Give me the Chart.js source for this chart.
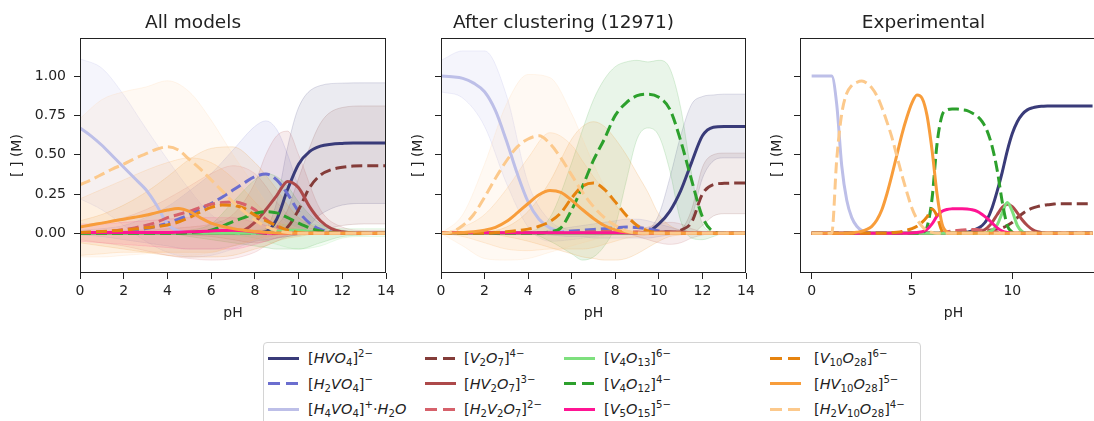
<!DOCTYPE html>
<html>
<head>
<meta charset="utf-8">
<script src="https://cdn.jsdelivr.net/npm/chart.js@4.4.0/dist/chart.umd.min.js"></script>
<style>
  body { margin: 0; width: 1094px; height: 421px; overflow: hidden; background: #fff; position: relative; font-family: "DejaVu Sans", sans-serif; }
  canvas { position: absolute; top: 0; }
  #legend { position: absolute; left: 263px; top: 342px; width: 656px; height: 100px; border: 1px solid #d4d4d4; border-radius: 4px; background: #fff; color: #222; font-size: 14.5px; }
  .sample { position: absolute; width: 31px; height: 3px; }
  .lab { position: absolute; white-space: nowrap; line-height: 20px; }
  .lab sub, .lab sup { font-size: 70%; line-height: 0; }
  .lab sup { vertical-align: 0.55em; }
  .lab sub { vertical-align: -0.3em; }
</style>
</head>
<body>
<canvas id="c1" width="466" height="330" style="left:0px"></canvas>
<canvas id="c2" width="425" height="330" style="left:381px"></canvas>
<canvas id="c3" width="427" height="330" style="left:740px"></canvas>
<div id="legend"></div>
<script>
// species, in legend order
const SPECIES = ['HVO4', 'H2VO4', 'H4VO4', 'V2O7', 'HV2O7', 'H2V2O7', 'V4O13', 'V4O12', 'V5O15', 'V10O28', 'HV10O28', 'H2V10O28'];
const LABELS = [
  '[<i>HVO</i><sub>4</sub>]<sup>2−</sup>',
  '[<i>H</i><sub>2</sub><i>VO</i><sub>4</sub>]<sup>−</sup>',
  '[<i>H</i><sub>4</sub><i>VO</i><sub>4</sub>]<sup>+</sup>·<i>H</i><sub>2</sub><i>O</i>',
  '[<i>V</i><sub>2</sub><i>O</i><sub>7</sub>]<sup>4−</sup>',
  '[<i>HV</i><sub>2</sub><i>O</i><sub>7</sub>]<sup>3−</sup>',
  '[<i>H</i><sub>2</sub><i>V</i><sub>2</sub><i>O</i><sub>7</sub>]<sup>2−</sup>',
  '[<i>V</i><sub>4</sub><i>O</i><sub>13</sub>]<sup>6−</sup>',
  '[<i>V</i><sub>4</sub><i>O</i><sub>12</sub>]<sup>4−</sup>',
  '[<i>V</i><sub>5</sub><i>O</i><sub>15</sub>]<sup>5−</sup>',
  '[<i>V</i><sub>10</sub><i>O</i><sub>28</sub>]<sup>6−</sup>',
  '[<i>HV</i><sub>10</sub><i>O</i><sub>28</sub>]<sup>5−</sup>',
  '[<i>H</i><sub>2</sub><i>V</i><sub>10</sub><i>O</i><sub>28</sub>]<sup>4−</sup>'
];
const COLORS = ['#393b79', '#6b6ecf', '#bdbfe8', '#843c39', '#ad494a', '#d6616b', '#7ee07e', '#2ca02c', '#ff1493', '#e6830f', '#f89d3b', '#fcc98c'];
const DASHED = [false, true, false, true, false, true, false, true, false, true, false, true];

const TITLES = ['All models', 'After clustering (12971)', 'Experimental'];
const Y_TICKS = [0, 0.25, 0.5, 0.75, 1.0];
const X_TICKS_MODEL = [0, 2, 4, 6, 8, 10, 12, 14];
const X_TICKS_EXP = [0, 5, 10];

// pH grid for the model panels
const PH = [0,0.5,1,1.5,2,2.5,3,3.5,4,4.5,5,5.5,6,6.5,7,7.5,8,8.5,9,9.5,10,10.5,11,11.5,12,12.5,13,13.5,14];

// All models: mean curves
const am_HVO4 = [0,0,0,0,0,0,0,0,0,0, 0,0,0,0,0,0,0.003,0.01,0.09,0.28,0.44,0.52,0.555,0.567,0.572,0.575,0.575,0.575,0.575];
const am_H2VO4 = [0,0.002,0.004,0.006,0.01,0.018,0.03,0.045,0.065,0.09,0.12,0.155,0.19,0.23,0.275,0.32,0.36,0.377,0.34,0.25,0.14,0.065,0.025,0.008,0.002,0,0,0,0];
const am_H4VO4 = [0.67,0.62,0.56,0.49,0.42,0.35,0.28,0.18,0.06,0.015,0.004,0,0,0,0,0,0,0,0,0,0,0,0,0,0,0,0,0,0];
const am_V2O7 = [0,0,0,0,0,0,0,0,0,0, 0,0,0,0,0,0,0,0,0,0.04,0.15,0.29,0.37,0.405,0.42,0.428,0.43,0.43,0.43];
const am_HV2O7 = [0,0,0,0,0,0,0,0,0,0, 0,0,0,0,0,0.02,0.07,0.15,0.24,0.33,0.29,0.17,0.08,0.03,0.01,0.003,0,0,0];
const am_H2V2O7 = [0.005,0.007,0.01,0.015,0.025,0.035,0.05,0.07,0.1,0.12,0.14,0.165,0.185,0.197,0.2,0.185,0.15,0.09,0.045,0.018,0.005,0,0,0,0,0,0,0,0];
const am_V4O13 = [0,0,0,0,0,0,0,0,0,0, 0,0,0,0,0,0,0,0.005,0.012,0.02,0.02,0.012,0.005,0,0,0,0,0,0];
const am_V4O12 = [0,0,0,0,0,0,0,0,0,0, 0.005,0.01,0.02,0.045,0.075,0.1,0.125,0.138,0.13,0.1,0.065,0.035,0.015,0.005,0,0,0,0,0];
const am_V5O15 = [0.005,0.005,0.005,0.005,0.005,0.005,0.005,0.005,0.005,0.007,0.01,0.012,0.015,0.018,0.02,0.017,0.01,0.003,0,0,0,0,0,0,0,0,0,0,0];
const am_V10O28 = [0.006,0.009,0.012,0.016,0.02,0.027,0.035,0.043,0.053,0.072,0.1,0.135,0.165,0.18,0.178,0.16,0.116,0.08,0.048,0.02,0.005,0,0,0,0,0,0,0,0];
const am_HV10O28 = [0.04,0.053,0.065,0.078,0.09,0.102,0.115,0.132,0.148,0.158,0.14,0.1,0.065,0.045,0.03,0.02,0.012,0.007,0.003,0.001,0,0,0,0,0,0,0,0,0];
const am_H2V10O28 = [0.31,0.34,0.375,0.41,0.44,0.475,0.505,0.535,0.55,0.53,0.47,0.41,0.34,0.27,0.2,0.14,0.085,0.045,0.018,0.005,0,0,0,0,0,0,0,0,0];

// After clustering: mean curves
const ac_HVO4 = [0,0,0,0,0,0,0,0,0,0, 0,0,0,0,0,0,0,0,0,0.01,0.06,0.14,0.27,0.45,0.62,0.675,0.68,0.68,0.68];
const ac_H2VO4 = [0,0,0,0,0,0,0,0,0,0.003,0.006,0.01,0.015,0.02,0.025,0.03,0.035,0.04,0.037,0.028,0.015,0.006,0.002,0,0,0,0,0,0];
const ac_H4VO4 = [1,0.995,0.985,0.955,0.9,0.78,0.59,0.38,0.2,0.09,0.035,0.012,0.004,0,0,0,0,0,0,0,0,0,0,0,0,0,0,0,0];
const ac_V2O7 = [0,0,0,0,0,0,0,0,0,0, 0,0,0,0,0,0,0,0,0,0, 0,0,0.02,0.07,0.25,0.31,0.318,0.32,0.32];
const ac_HV2O7 = [0,0,0,0,0,0,0,0,0,0, 0,0,0,0,0,0,0,0,0,0.004,0.008,0.01,0.008,0.004,0,0,0,0,0];
const ac_H2V2O7 = [0,0,0,0,0,0,0,0,0,0, 0,0.003,0.006,0.008,0.01,0.012,0.012,0.01,0.008,0.005,0.002,0,0,0,0,0,0,0,0];
const ac_V4O13 = [0,0,0,0,0,0,0,0,0,0, 0,0,0,0,0,0,0,0,0,0, 0,0,0,0,0,0,0,0,0];
const ac_V4O12 = [0,0,0,0,0,0,0,0,0,0, 0.01,0.035,0.15,0.3,0.465,0.6,0.75,0.83,0.875,0.885,0.865,0.79,0.59,0.34,0.105,0.012,0,0,0];
const ac_V5O15 = [0.004,0.004,0.004,0.004,0.004,0.004,0.004,0.004,0.004,0.004,0.004,0.004,0.004,0.004,0.004,0.004,0.004,0.004,0.002,0,0,0,0,0,0,0,0,0,0];
const ac_V10O28 = [0.002,0.002,0.002,0.002,0.002,0.005,0.01,0.017,0.027,0.045,0.075,0.13,0.225,0.3,0.32,0.28,0.2,0.115,0.05,0.015,0.004,0,0,0,0,0,0,0,0];
const ac_HV10O28 = [0,0.002,0.005,0.01,0.02,0.038,0.075,0.13,0.19,0.245,0.272,0.26,0.21,0.15,0.095,0.05,0.022,0.008,0.002,0,0,0,0,0,0,0,0,0,0];
const ac_H2V10O28 = [0,0.01,0.05,0.12,0.23,0.35,0.46,0.55,0.6,0.62,0.57,0.48,0.37,0.26,0.17,0.1,0.05,0.015,0.003,0,0,0,0,0,0,0,0,0,0];

// Experimental: finer pH grid
const EX_PH = [0,0.25,0.5,0.75,1,1.25,1.5,1.75,2,2.25,2.5,2.75,3,3.25,3.5,3.75,4,4.25,4.5,4.75,5,5.25,5.5,5.75,6,6.25,6.5,6.75,7,7.25,7.5,7.75,8,8.25,8.5,8.75,9,9.25,9.5,9.75,10,10.25,10.5,10.75,11,11.25,11.5,11.75,12,12.25,12.5,12.75,13,13.25,13.5,13.75,14];
const ex_HVO4 = [0,0,0,0,0,0,0,0,0,0, 0,0,0,0,0,0,0,0,0,0, 0,0,0,0,0,0,0,0,0,0,
  0.003,0.007,0.015,0.03,0.05,0.09,0.165,0.27,0.39,0.525,0.635,0.71,0.757,0.785,0.798,0.805,0.808,
  0.81,0.81,0.81,0.81,0.81,0.81,0.81,0.81,0.81,0.81];
const ex_H2VO4 = [0,0,0,0,0,0,0,0,0,0, 0,0,0,0,0,0,0,0,0,0, 0,0,0,0,0,0,0,0,0,0, 0,0,
  0.002,0.004,0.006,0.007,0.007,0.006,0.004,0.002,
  0,0,0,0,0,0,0,0,0,0, 0,0,0,0,0,0,0];
const ex_H4VO4 = [1,1,1,1,1, 0.82,0.43,0.21,0.1,0.045,0.018,0.006,
  0,0,0,0,0,0,0,0,0,0, 0,0,0,0,0,0,0,0,0,0, 0,0,0,0,0,0,0,0,0,0, 0,0,0,0,0,0,0,0,0,0, 0,0,0,0,0];
const ex_V2O7 = [0,0,0,0,0,0,0,0,0,0, 0,0,0,0,0,0,0,0,0,0, 0,0,0,0,0,0,
  0.003,0.005,0.008,0.01,0.012,0.014,0.015,0.016,0.018,0.02,0.022,0.028,0.035,0.05,0.07,0.1,0.125,0.145,0.16,0.17,0.177,0.182,0.185,
  0.188,0.188,0.188,0.188,0.188,0.188,0.188,0.188];
const ex_HV2O7 = [0,0,0,0,0,0,0,0,0,0, 0,0,0,0,0,0,0,0,0,0, 0,0,0,0,0,0,0,0,0,0, 0,0,0,
  0.005,0.015,0.035,0.07,0.12,0.165,0.185,0.17,0.13,0.085,0.05,0.025,0.01,0.004,
  0,0,0,0,0,0,0,0,0,0];
const ex_H2V2O7 = [0,0,0,0,0,0,0,0,0,0, 0,0,0,0,0,0,0,0,0,0, 0,0,0,0,0,0,
  0.005,0.01,0.015,0.019,0.022,0.024,0.025,0.024,0.022,0.017,0.012,0.007,0.003,
  0,0,0,0,0,0,0,0,0,0, 0,0,0,0,0,0,0,0];
const ex_V4O13 = [0,0,0,0,0,0,0,0,0,0, 0,0,0,0,0,0,0,0,0,0, 0,0,0,0,0,0,0,0,0,0, 0,0,0,0,0,
  0.005,0.02,0.055,0.13,0.196,0.14,0.05,0.01,
  0,0,0,0,0,0,0,0,0,0, 0,0,0,0];
const ex_V4O12 = [0,0,0,0,0,0,0,0,0,0, 0,0,0,0,0,0,0,0,0,0, 0,0,
  0.005,0.04,0.22,0.57,0.75,0.785,0.79,0.79,0.785,0.78,0.765,0.745,0.71,0.65,0.55,0.4,0.2,0.05,0.008,
  0,0,0,0,0,0,0,0,0,0, 0,0,0,0,0,0];
const ex_V5O15 = [0.001,0.001,0.001,0.001,0.001,0.001,0.001,0.001,0.001,0.001, 0.001,0.001,0.001,0.001,0.001,0.001,0.001,0.001,0.001,0.001,
  0.003,0.006,0.01,0.025,0.06,0.11,0.14,0.152,0.156,0.157,0.157,0.155,0.15,0.14,0.12,0.095,0.065,0.035,0.015,0.005,
  0,0,0,0,0,0,0,0,0,0, 0,0,0,0,0,0,0];
const ex_V10O28 = [0,0,0,0,0,0,0,0,0,0, 0,0,0,0,0,0,
  0.004,0.007,0.012,0.02,0.03,0.045,0.07,0.105,0.155,0.11,0.015,
  0,0,0,0,0,0,0,0,0,0, 0,0,0,0,0,0,0,0,0,0, 0,0,0,0,0,0,0,0,0,0];
const ex_HV10O28 = [0,0,0,0,0,0,0,0,
  0.003,0.007,0.013,0.025,0.045,0.085,0.15,0.25,0.37,0.5,0.63,0.74,0.83,0.88,0.86,0.75,0.53,0.25,0.06,0.008,
  0,0,0,0,0,0,0,0,0,0, 0,0,0,0,0,0,0,0,0,0, 0,0,0,0,0,0,0,0,0];
const ex_H2V10O28 = [0,0,0,0,0,
  0.47,0.76,0.89,0.94,0.96,0.968,0.955,0.925,0.875,0.8,0.71,0.61,0.49,0.37,0.26,0.16,0.09,0.045,0.018,0.006,
  0,0,0,0,0,0,0,0,0,0, 0,0,0,0,0,0,0,0,0,0, 0,0,0,0,0,0,0,0,0,0, 0,0];

// All models: spread bands (lower / upper)
const B1_PH = [0,1,2,3,4,5,6,7,8,8.5,9,9.5,10,11,12,13,14];
const am_lo_HVO4 = [0,0,0,0,0,0,0,0,0,0,0,0,0,0.12,0.18,0.19,0.19];
const am_hi_HVO4 = [0,0,0,0,0,0,0,0,0.005,0.03,0.2,0.55,0.8,0.94,0.955,0.957,0.957];
const am_lo_H2VO4 = [-0.01,-0.02,-0.04,-0.06,-0.08,-0.1,-0.1,-0.08,-0.05,-0.04,-0.03,-0.02,-0.01,0,0,0,0];
const am_hi_H2VO4 = [0.02,0.03,0.05,0.1,0.17,0.27,0.38,0.53,0.68,0.715,0.66,0.5,0.3,0.07,0.01,0,0];
const am_lo_H4VO4 = [0.22,0.15,0.05,-0.05,-0.12,-0.15,-0.14,-0.1,-0.05,-0.03,-0.01,0,0,0,0,0,0];
const am_hi_H4VO4 = [1.11,1.05,0.88,0.67,0.47,0.28,0.12,0.04,0.01,0,0,0,0,0,0,0,0];
const am_lo_V2O7 = [0,0,0,0,0,0,0,0,0,0,0,0,0,0.02,0.05,0.06,0.06];
const am_hi_V2O7 = [0,0,0,0,0,0,0,0,0,0.01,0.05,0.15,0.35,0.7,0.8,0.81,0.81];
const am_lo_HV2O7 = [0,0,0,0,0,-0.01,-0.02,-0.04,-0.06,-0.05,-0.03,-0.02,-0.01,0,0,0,0];
const am_hi_HV2O7 = [0.01,0.01,0.02,0.02,0.03,0.04,0.06,0.12,0.32,0.5,0.62,0.65,0.5,0.15,0.04,0.02,0.02];
const am_lo_H2V2O7 = [-0.04,-0.06,-0.08,-0.11,-0.14,-0.16,-0.17,-0.16,-0.12,-0.08,-0.05,-0.02,-0.01,0,0,0,0];
const am_hi_H2V2O7 = [0.05,0.07,0.1,0.15,0.22,0.3,0.38,0.43,0.38,0.3,0.2,0.12,0.06,0.02,0,0,0];
const am_lo_V4O13 = [0,0,0,0,0,0,0,-0.01,-0.03,-0.05,-0.07,-0.09,-0.1,-0.08,-0.03,-0.02,-0.02];
const am_hi_V4O13 = [0,0,0,0,0,0,0,0.01,0.02,0.03,0.05,0.06,0.07,0.05,0.03,0.03,0.03];
const am_lo_V4O12 = [0,0,0,0,0,-0.02,-0.04,-0.06,-0.08,-0.09,-0.1,-0.1,-0.1,-0.06,-0.02,-0.01,0];
const am_hi_V4O12 = [0,0,0,0,0.01,0.02,0.06,0.2,0.34,0.38,0.36,0.3,0.2,0.06,0.02,0.01,0];
const am_lo_V5O15 = [-0.05,-0.06,-0.07,-0.08,-0.09,-0.1,-0.1,-0.1,-0.07,-0.05,-0.03,-0.01,0,0,0,0,0];
const am_hi_V5O15 = [0.06,0.06,0.07,0.08,0.09,0.1,0.1,0.1,0.07,0.05,0.03,0.01,0,0,0,0,0];
const am_lo_V10O28 = [-0.06,-0.08,-0.1,-0.12,-0.14,-0.15,-0.15,-0.14,-0.1,-0.08,-0.05,-0.03,-0.02,0,0,0,0];
const am_hi_V10O28 = [0.08,0.12,0.18,0.26,0.36,0.47,0.54,0.55,0.45,0.37,0.28,0.18,0.1,0.03,0.01,0,0];
const am_lo_HV10O28 = [-0.14,-0.13,-0.12,-0.12,-0.12,-0.12,-0.12,-0.08,-0.04,-0.02,-0.01,0,0,0,0,0,0];
const am_hi_HV10O28 = [0.22,0.28,0.34,0.4,0.45,0.48,0.45,0.35,0.2,0.13,0.08,0.04,0.02,0,0,0,0];
const am_lo_H2V10O28 = [-0.15,-0.15,-0.14,-0.13,-0.12,-0.14,-0.12,-0.08,-0.05,-0.03,-0.02,-0.01,0,0,0,0,0];
const am_hi_H2V10O28 = [0.73,0.85,0.9,0.93,0.97,0.9,0.72,0.5,0.3,0.2,0.12,0.06,0.03,0.01,0.01,0.01,0.01];

// After clustering: spread bands
const B2_PH = [0,1,2,3,4,5,6,6.5,7,7.5,8,8.5,9,9.5,10,10.5,11,11.5,12,12.5,13,14];
const ac_lo_HVO4 = [0,0,0,0,0,0,0,0,0,0,0,0,0,0,0,0,0,0.1,0.35,0.46,0.48,0.48];
const ac_hi_HVO4 = [0,0,0,0,0,0,0,0,0,0,0,0,0,0.02,0.12,0.35,0.62,0.82,0.87,0.88,0.885,0.885];
const ac_lo_H2VO4 = [0,0,0,0,0,-0.01,-0.02,-0.02,-0.03,-0.03,-0.03,-0.03,-0.03,-0.03,-0.02,-0.01,0,0,0,0,0,0];
const ac_hi_H2VO4 = [0,0,0,0,0,0.02,0.04,0.05,0.06,0.07,0.08,0.09,0.09,0.08,0.06,0.04,0.02,0.01,0,0,0,0];
const ac_lo_H4VO4 = [0.9,0.86,0.68,0.32,0.04,-0.05,-0.04,-0.03,-0.02,-0.01,0,0,0,0,0,0,0,0,0,0,0,0];
const ac_hi_H4VO4 = [1.1,1.16,1.16,0.88,0.32,0.08,0.02,0.01,0,0,0,0,0,0,0,0,0,0,0,0,0,0];
const ac_lo_V2O7 = [0,0,0,0,0,0,0,0,0,0,0,0,0,0,0,0,0,0,0.05,0.11,0.125,0.125];
const ac_hi_V2O7 = [0,0,0,0,0,0,0,0,0,0,0,0,0,0,0,0,0.02,0.15,0.42,0.5,0.51,0.51];
const ac_lo_HV2O7 = [0,0,0,0,0,0,0,0,0,0,0,0,-0.02,-0.04,-0.06,-0.07,-0.06,-0.03,-0.01,0,0,0];
const ac_hi_HV2O7 = [0,0,0,0,0,0,0,0,0,0,0,0,0.02,0.04,0.06,0.07,0.06,0.03,0.01,0,0,0];
const ac_lo_V4O12 = [0,0,0,0,0,-0.05,-0.13,-0.17,-0.15,-0.08,0.05,0.33,0.6,0.67,0.62,0.4,0.08,-0.03,-0.04,-0.02,0,0];
const ac_hi_V4O12 = [0,0,0,0,0.01,0.1,0.45,0.66,0.85,0.98,1.06,1.09,1.1,1.09,1.1,1.05,0.8,0.38,0.06,0.01,0,0];
const ac_lo_V10O28 = [0,0,0,-0.02,-0.05,-0.09,-0.13,-0.15,-0.16,-0.17,-0.17,-0.16,-0.13,-0.09,-0.05,-0.02,-0.01,0,0,0,0,0];
const ac_hi_V10O28 = [0,0,0.01,0.04,0.14,0.33,0.6,0.68,0.71,0.68,0.6,0.5,0.38,0.26,0.12,0.05,0.02,0.01,0,0,0,0];
const ac_lo_HV10O28 = [0,-0.02,-0.06,-0.1,-0.11,-0.1,-0.1,-0.1,-0.09,-0.07,-0.05,-0.03,-0.02,-0.01,0,0,0,0,0,0,0,0];
const ac_hi_HV10O28 = [0,0.04,0.12,0.28,0.48,0.64,0.56,0.46,0.36,0.27,0.18,0.11,0.06,0.03,0.01,0,0,0,0,0,0,0];
const ac_lo_H2V10O28 = [0,-0.08,-0.16,-0.17,-0.16,-0.12,-0.08,-0.06,-0.04,-0.02,-0.01,0,0,0,0,0,0,0,0,0,0,0];
const ac_hi_H2V10O28 = [0,0.12,0.44,0.82,1.01,0.99,0.76,0.6,0.44,0.3,0.19,0.1,0.04,0.01,0,0,0,0,0,0,0,0];

const AM_LINES = [am_HVO4, am_H2VO4, am_H4VO4, am_V2O7, am_HV2O7, am_H2V2O7, am_V4O13, am_V4O12, am_V5O15, am_V10O28, am_HV10O28, am_H2V10O28];
const AC_LINES = [ac_HVO4, ac_H2VO4, ac_H4VO4, ac_V2O7, ac_HV2O7, ac_H2V2O7, ac_V4O13, ac_V4O12, ac_V5O15, ac_V10O28, ac_HV10O28, ac_H2V10O28];
const EX_LINES = [ex_HVO4, ex_H2VO4, ex_H4VO4, ex_V2O7, ex_HV2O7, ex_H2V2O7, ex_V4O13, ex_V4O12, ex_V5O15, ex_V10O28, ex_HV10O28, ex_H2V10O28];
const AM_LO = [am_lo_HVO4, am_lo_H2VO4, am_lo_H4VO4, am_lo_V2O7, am_lo_HV2O7, am_lo_H2V2O7, am_lo_V4O13, am_lo_V4O12, am_lo_V5O15, am_lo_V10O28, am_lo_HV10O28, am_lo_H2V10O28];
const AM_HI = [am_hi_HVO4, am_hi_H2VO4, am_hi_H4VO4, am_hi_V2O7, am_hi_HV2O7, am_hi_H2V2O7, am_hi_V4O13, am_hi_V4O12, am_hi_V5O15, am_hi_V10O28, am_hi_HV10O28, am_hi_H2V10O28];
const AC_LO = [ac_lo_HVO4, ac_lo_H2VO4, ac_lo_H4VO4, ac_lo_V2O7, ac_lo_HV2O7, null, null, ac_lo_V4O12, null, ac_lo_V10O28, ac_lo_HV10O28, ac_lo_H2V10O28];
const AC_HI = [ac_hi_HVO4, ac_hi_H2VO4, ac_hi_H4VO4, ac_hi_V2O7, ac_hi_HV2O7, null, null, ac_hi_V4O12, null, ac_hi_V10O28, ac_hi_HV10O28, ac_hi_H2V10O28];

const FONT = '"DejaVu Sans", sans-serif';
const INK = '#222';

function check(grid, arr, name) {
  if (arr && arr.length !== grid.length) throw new Error(name + ' has ' + arr.length + ' values, expected ' + grid.length);
}
SPECIES.forEach((s, i) => {
  check(PH, AM_LINES[i], 'am_' + s); check(PH, AC_LINES[i], 'ac_' + s); check(EX_PH, EX_LINES[i], 'ex_' + s);
  check(B1_PH, AM_LO[i], 'am_lo_' + s); check(B1_PH, AM_HI[i], 'am_hi_' + s);
  check(B2_PH, AC_LO[i], 'ac_lo_' + s); check(B2_PH, AC_HI[i], 'ac_hi_' + s);
});

function rgba(hex, a) {
  const n = parseInt(hex.slice(1), 16);
  return 'rgba(' + (n >> 16) + ',' + ((n >> 8) & 255) + ',' + (n & 255) + ',' + a + ')';
}
function pts(xs, ys) { return xs.map((x, k) => ({x: x, y: ys[k]})); }

function lineSets(xs, lines) {
  return lines.map((ys, i) => ({
    data: pts(xs, ys),
    borderColor: COLORS[i],
    borderWidth: 3,
    borderDash: DASHED[i] ? [11, 5] : [],
    borderCapStyle: 'butt',
    pointRadius: 0,
    fill: false,
    cubicInterpolationMode: 'monotone',
    order: 11 - i
  }));
}
function bandSets(xs, los, his) {
  const out = [];
  los.forEach((lo, i) => {
    if (!lo) return;
    const c = i === 2 ? '#9c9ede' : COLORS[i];
    out.push({ data: pts(xs, lo), borderColor: rgba(c, 0.16), borderWidth: 1, pointRadius: 0, fill: false, cubicInterpolationMode: 'monotone', order: 40 - i });
    out.push({ data: pts(xs, his[i]), borderColor: rgba(c, 0.16), borderWidth: 1, pointRadius: 0, backgroundColor: rgba(c, 0.1), fill: '-1', cubicInterpolationMode: 'monotone', order: 40 - i });
  });
  return out;
}

// black frame round each axes box
const framePlugin = {
  id: 'frame',
  afterDatasetsDraw(chart) {
    const a = chart.chartArea, ctx = chart.ctx;
    ctx.save();
    ctx.strokeStyle = INK;
    ctx.lineWidth = 1;
    ctx.strokeRect(Math.round(a.left) + 0.5, Math.round(a.top) + 0.5, Math.round(a.right - a.left) - 1, Math.round(a.bottom - a.top) - 1);
    ctx.restore();
  }
};

function makePanel(id, title, datasets, o) {
  return new Chart(document.getElementById(id), {
    type: 'line',
    data: { datasets: datasets },
    options: {
      responsive: false,
      animation: false,
      events: [],
      layout: { padding: { left: 0, right: o.side, top: 0, bottom: 0 } },
      plugins: {
        legend: { display: false },
        tooltip: { enabled: false },
        title: { display: true, text: title, color: INK, font: { family: FONT, size: 18.5, weight: 'normal' }, padding: { top: 11.9, bottom: 3.9 } }
      },
      scales: {
        x: {
          type: 'linear', min: o.xmin, max: o.xmax,
          afterBuildTicks: s => { s.ticks = o.xticks.map(v => ({ value: v })); },
          afterFit: s => { s.height = 57; },
          ticks: { color: INK, font: { family: FONT, size: 14 }, padding: 4, maxRotation: 0, callback: v => String(v) },
          grid: { drawOnChartArea: false, drawTicks: true, tickLength: 6, color: INK },
          border: { display: false },
          title: { display: true, text: 'pH', color: INK, font: { family: FONT, size: 14 }, padding: { top: 0, bottom: 8.6 } }
        },
        y: {
          min: -0.252, max: 1.242,
          afterBuildTicks: s => { s.ticks = Y_TICKS.map(v => ({ value: v })); },
          afterFit: s => { s.width = o.side; },
          ticks: { display: o.ylabels, color: INK, font: { family: FONT, size: 14 }, padding: 8, callback: v => v.toFixed(2) },
          grid: { drawOnChartArea: false, drawTicks: true, tickLength: 6, color: INK },
          border: { display: false },
          title: { display: true, text: '[ ] (M)', color: INK, font: { family: FONT, size: 14 }, padding: { top: o.ytitle, bottom: 0 } }
        }
      }
    },
    plugins: [framePlugin]
  });
}

makePanel('c1', TITLES[0], lineSets(PH, AM_LINES).concat(bandSets(B1_PH, AM_LO, AM_HI)),
  { side: 80, ytitle: 8.6, xmin: 0, xmax: 14, xticks: X_TICKS_MODEL, ylabels: true });
makePanel('c2', TITLES[1], lineSets(PH, AC_LINES).concat(bandSets(B2_PH, AC_LO, AC_HI)),
  { side: 60, ytitle: 28.6, xmin: 0, xmax: 14, xticks: X_TICKS_MODEL, ylabels: false });
makePanel('c3', TITLES[2], lineSets(EX_PH, EX_LINES),
  { side: 60, ytitle: 28.6, xmin: -0.58, xmax: 14.72, xticks: X_TICKS_EXP, ylabels: false });

// legend: 4 columns x 3 rows, column-major
const SAMPLE_X = [4, 161, 300, 506];
const TEXT_X = [44, 200, 340, 550];
const ROW_Y = [15, 40.5, 66];
const legend = document.getElementById('legend');
SPECIES.forEach((s, i) => {
  const col = Math.floor(i / 3), row = i % 3;
  const line = document.createElement('div');
  line.className = 'sample';
  line.style.left = SAMPLE_X[col] + 'px';
  line.style.top = (ROW_Y[row] - 1.5) + 'px';
  line.style.background = DASHED[i]
    ? 'repeating-linear-gradient(90deg,' + COLORS[i] + ' 0 12px, transparent 12px 18px)'
    : COLORS[i];
  legend.appendChild(line);
  const lab = document.createElement('div');
  lab.className = 'lab';
  lab.style.left = TEXT_X[col] + 'px';
  lab.style.top = (ROW_Y[row] - 10) + 'px';
  lab.innerHTML = LABELS[i];
  legend.appendChild(lab);
});
</script>
</body>
</html>
